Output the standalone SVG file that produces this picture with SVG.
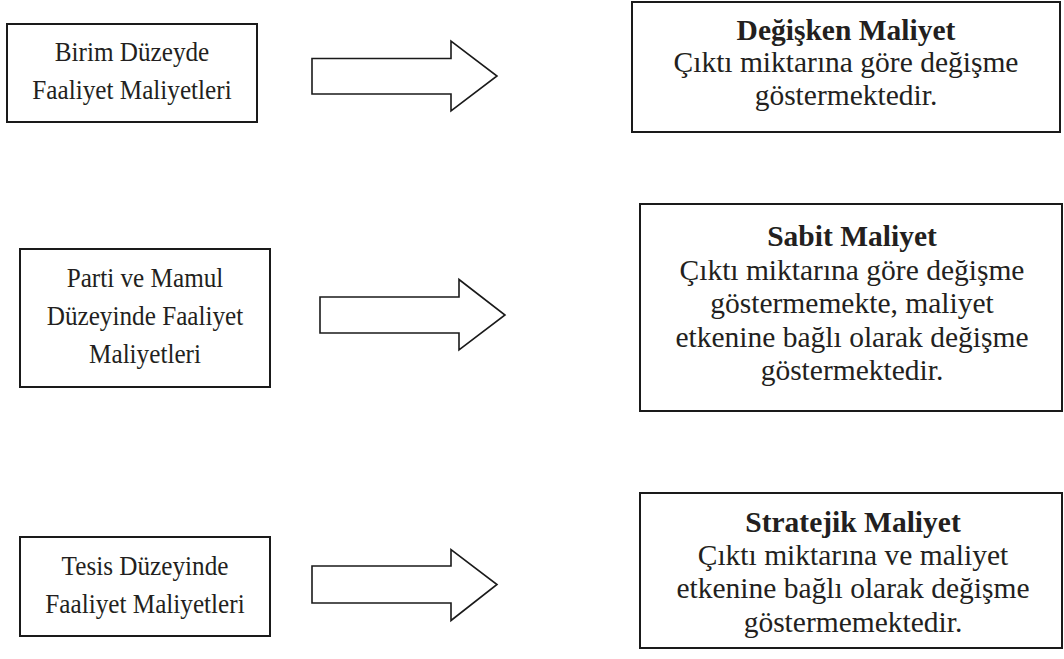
<svg xmlns="http://www.w3.org/2000/svg" width="1064" height="659" viewBox="0 0 1064 659">
<style>
.box{fill:#fff;stroke:#1a1a1a;stroke-width:2}
.arr{fill:#fff;stroke:#1a1a1a;stroke-width:1.6;stroke-linejoin:miter}
.l{font-family:"Liberation Serif","Times New Roman",serif;font-size:28px;fill:#231f20;text-anchor:middle}
.r{font-family:"Liberation Serif","Times New Roman",serif;font-size:29.5px;fill:#231f20;text-anchor:middle}
.b{font-weight:bold}
</style>
<rect width="1064" height="659" fill="#fff"/>
<g id="n1">
<rect class="box" x="7" y="24" width="250" height="98"/>
<g transform="translate(132,0) scale(0.9,1)">
<text class="l" x="0" y="61">Birim Düzeyde</text>
<text class="l" x="0" y="99">Faaliyet Maliyetleri</text>
</g>
</g>
<g id="n2">
<rect class="box" x="632" y="2" width="428" height="130"/>
<text class="r b" x="846" y="40">Değişken Maliyet</text>
<text class="r" x="846" y="72">Çıktı miktarına göre değişme</text>
<text class="r" x="846" y="105">göstermektedir.</text>
</g>
<g id="n3">
<rect class="box" x="20" y="249" width="250" height="138"/>
<g transform="translate(145,0) scale(0.9,1)">
<text class="l" x="0" y="287">Parti ve Mamul</text>
<text class="l" x="0" y="325">Düzeyinde Faaliyet</text>
<text class="l" x="0" y="363">Maliyetleri</text>
</g>
</g>
<g id="n4">
<rect class="box" x="640" y="204" width="422" height="207"/>
<text class="r b" x="852" y="246">Sabit Maliyet</text>
<text class="r" x="852" y="280">Çıktı miktarına göre değişme</text>
<text class="r" x="852" y="313">göstermemekte, maliyet</text>
<text class="r" x="852" y="347">etkenine bağlı olarak değişme</text>
<text class="r" x="852" y="380">göstermektedir.</text>
</g>
<g id="n5">
<rect class="box" x="20" y="537" width="250" height="99"/>
<g transform="translate(145,0) scale(0.9,1)">
<text class="l" x="0" y="575">Tesis Düzeyinde</text>
<text class="l" x="0" y="613">Faaliyet Maliyetleri</text>
</g>
</g>
<g id="n6">
<rect class="box" x="640" y="493" width="422" height="155"/>
<text class="r b" x="853" y="532">Stratejik Maliyet</text>
<text class="r" x="853" y="565">Çıktı miktarına ve maliyet</text>
<text class="r" x="853" y="598">etkenine bağlı olarak değişme</text>
<text class="r" x="853" y="632">göstermemektedir.</text>
</g>
<g id="connectors">
<polygon class="arr" points="312,58.5 451,58.5 451,41 497,76 451,111 451,94 312,94"/>
<polygon class="arr" points="320,297 459,297 459,279.5 505,315 459,350 459,333 320,333"/>
<polygon class="arr" points="312,566 451,566 451,549.5 497,584.5 451,620.5 451,603 312,603"/>
</g>
</svg>
